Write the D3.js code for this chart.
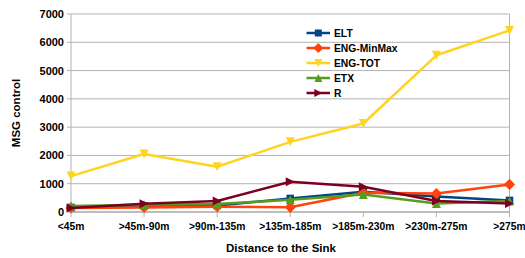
<!DOCTYPE html>
<html><head><meta charset="utf-8">
<script src="https://cdn.jsdelivr.net/npm/d3@7"></script>
<style>body{margin:0;background:#fff}svg{display:block;font-family:"Liberation Sans",Arial,sans-serif;font-weight:bold}</style>
</head><body><svg id="c" width="525" height="258"></svg>
<script>
const categories = ["<45m", ">45m-90m", ">90m-135m", ">135m-185m", ">185m-230m", ">230m-275m", ">275m"];
const yTicks = [0, 1000, 2000, 3000, 4000, 5000, 6000, 7000];
const seriesNames = ["ELT", "ENG-MinMax", "ENG-TOT", "ETX", "R"];
const eltValues = [160, 220, 230, 480, 720, 550, 410];
const engMinMaxValues = [140, 160, 190, 165, 680, 650, 975];
const engTotValues = [1270, 2050, 1600, 2480, 3130, 5540, 6420];
const etxValues = [210, 260, 280, 430, 620, 300, 390];
const rValues = [140, 295, 390, 1070, 890, 390, 300];
const colors = ["#004586", "#ff420e", "#ffd320", "#579d1c", "#7e0021"];
const symbols = ["square", "diamond", "down", "up", "right"];

const series = [eltValues, engMinMaxValues, engTotValues, etxValues, rValues].map((v, i) => ({
  name: seriesNames[i], values: v, color: colors[i], symbol: symbols[i]
}));

const svg = d3.select("#c");
const L = 71, R = 509.5, T = 14, B = 212;
const x = d3.scalePoint().domain(categories).range([L, R]);
const y = d3.scaleLinear().domain([0, 7000]).range([B, T]);
const grid = "#b3b3b3";

// gridlines
svg.append("g").selectAll("line").data(yTicks).join("line")
  .attr("x1", L - 4).attr("x2", R).attr("y1", d => y(d)).attr("y2", d => y(d))
  .attr("stroke", grid).attr("stroke-width", 1);
// left & right border
svg.append("line").attr("x1", L).attr("x2", L).attr("y1", T).attr("y2", B).attr("stroke", grid);
svg.append("line").attr("x1", R).attr("x2", R).attr("y1", T).attr("y2", B).attr("stroke", grid);
// bottom axis
svg.append("line").attr("x1", L).attr("x2", R).attr("y1", B).attr("y2", B).attr("stroke", grid).attr("stroke-width", 1.5);
svg.append("g").selectAll("line").data(categories).join("line")
  .attr("x1", d => x(d)).attr("x2", d => x(d)).attr("y1", B).attr("y2", B + 5).attr("stroke", grid);

// y tick labels
svg.append("g").selectAll("text").data(yTicks).join("text")
  .attr("x", 64).attr("y", d => y(d) + 4).attr("text-anchor", "end")
  .attr("font-size", 11).attr("fill", "#000").text(d => d);
// x tick labels
svg.append("g").selectAll("text").data(categories).join("text")
  .attr("x", d => x(d)).attr("y", 229.5).attr("text-anchor", "middle")
  .attr("font-size", 10.3).attr("fill", "#000").text(d => d);

// axis titles
svg.append("text").attr("x", 281).attr("y", 251.5).attr("text-anchor", "middle")
  .attr("font-size", 11.5).text("Distance to the Sink");
svg.append("text").attr("transform", "translate(20,113) rotate(-90)").attr("text-anchor", "middle")
  .attr("font-size", 11.5).text("MSG control");

function marker(g, type, cx, cy, color, s) {
  if (type === "square") {
    g.append("rect").attr("x", cx - s/2).attr("y", cy - s/2).attr("width", s).attr("height", s).attr("fill", color);
  } else if (type === "diamond") {
    const h = s * 0.62;
    g.append("path").attr("d", `M${cx},${cy-h}L${cx+h},${cy}L${cx},${cy+h}L${cx-h},${cy}Z`).attr("fill", color);
  } else if (type === "down") {
    const h = s/2;
    g.append("path").attr("d", `M${cx-h},${cy-h}L${cx+h},${cy-h}L${cx},${cy+h}Z`).attr("fill", color);
  } else if (type === "up") {
    const h = s/2;
    g.append("path").attr("d", `M${cx-h},${cy+h}L${cx+h},${cy+h}L${cx},${cy-h}Z`).attr("fill", color);
  } else if (type === "right") {
    const h = s/2;
    g.append("path").attr("d", `M${cx-h},${cy-h}L${cx-h},${cy+h}L${cx+h},${cy}Z`).attr("fill", color);
  }
}

const line = d3.line().x((d, i) => x(categories[i])).y(d => y(d));
series.forEach(s => {
  const g = svg.append("g");
  g.append("path").attr("d", line(s.values)).attr("fill", "none")
    .attr("stroke", s.color).attr("stroke-width", 2.5).attr("stroke-linejoin", "round");
  s.values.forEach((v, i) => marker(g, s.symbol, x(categories[i]), y(v), s.color, s.symbol === "square" ? 7.5 : 9));
});

// legend
const lg = svg.append("g");
series.forEach((s, i) => {
  const yy = 33 + i * 15;
  lg.append("line").attr("x1", 306.5).attr("x2", 330).attr("y1", yy).attr("y2", yy)
    .attr("stroke", s.color).attr("stroke-width", 2.5);
  marker(lg, s.symbol, 318.3, yy, s.color, s.symbol === "square" ? 7 : 8);
  lg.append("text").attr("x", 334).attr("y", yy + 3.8).attr("font-size", 10.3).text(s.name);
});
</script></body></html>
